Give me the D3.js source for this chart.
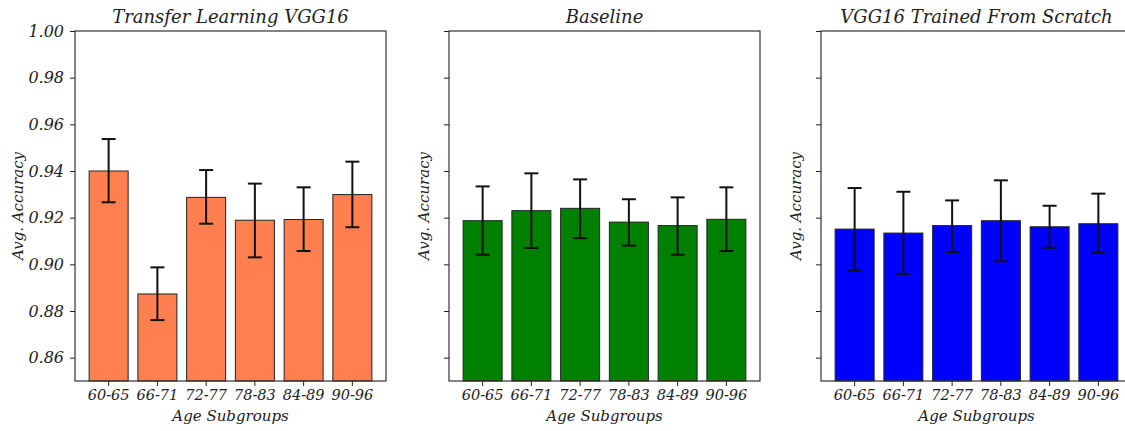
<!DOCTYPE html>
<meta charset="utf-8">
<style>
body { margin: 0; background: #fff; }
text { font-family: "DejaVu Serif", serif; font-style: italic; fill: #222; }
.axis .domain { display: none; }
.axis line { stroke: #222; }
</style>
<svg width="1125" height="431"></svg>
<script src="https://d3js.org/d3.v7.min.js"></script>
<script>

var groups = ["60-65", "66-71", "72-77", "78-83", "84-89", "90-96"];
var yTicks = [0.86, 0.88, 0.90, 0.92, 0.94, 0.96, 0.98, 1.00];

var titles = ["Transfer Learning VGG16", "Baseline", "VGG16 Trained From Scratch"];
var colors = ["#ff7f50", "#008000", "#0000ff"];

// bar heights (mean accuracy)
var transferMean = [0.940, 0.8873, 0.9287, 0.9189, 0.9192, 0.9299];
var baselineMean = [0.9187, 0.9230, 0.9240, 0.9181, 0.9166, 0.9193];
var scratchMean  = [0.9151, 0.9134, 0.9166, 0.9187, 0.9161, 0.9174];

// error bar ends
var transferLow  = [0.9266, 0.8761, 0.9174, 0.9030, 0.9057, 0.9159];
var transferHigh = [0.9537, 0.8987, 0.9404, 0.9346, 0.9330, 0.9440];
var baselineLow  = [0.9041, 0.9070, 0.9112, 0.9080, 0.9041, 0.9057];
var baselineHigh = [0.9334, 0.9390, 0.9364, 0.9279, 0.9287, 0.9330];
var scratchLow   = [0.8974, 0.8959, 0.9052, 0.9013, 0.9071, 0.9049];
var scratchHigh  = [0.9327, 0.9311, 0.9274, 0.9360, 0.9251, 0.9303];

var panels = [
  {mean: transferMean, low: transferLow, high: transferHigh},
  {mean: baselineMean, low: baselineLow, high: baselineHigh},
  {mean: scratchMean,  low: scratchLow,  high: scratchHigh}
];

var svg = d3.select("svg"),
    plotTop = 31, plotBottom = 381, panelWidth = 311,
    lefts = [75, 449, 821];

var y = d3.scaleLinear().domain([0.85, 1.00]).range([plotBottom, plotTop]);

panels.forEach(function(p, k) {
  var g = svg.append("g").attr("transform", "translate(" + lefts[k] + ",0)");

  var x = d3.scaleBand()
      .domain(groups)
      .range([0, panelWidth])
      .paddingInner(0.2)
      .paddingOuter(0.29);

  var rows = groups.map(function(name, i) {
    return {name: name, mean: p.mean[i], low: p.low[i], high: p.high[i]};
  });

  g.selectAll("rect.bar")
    .data(rows)
    .enter().append("rect")
      .attr("class", "bar")
      .attr("x", function(d) { return x(d.name); })
      .attr("y", function(d) { return y(d.mean); })
      .attr("width", x.bandwidth())
      .attr("height", function(d) { return plotBottom - y(d.mean); })
      .attr("fill", colors[k])
      .attr("stroke", "#222")
      .attr("stroke-width", 1);

  // error bars
  var err = g.selectAll("g.err")
    .data(rows)
    .enter().append("g")
      .attr("class", "err")
      .attr("transform", function(d) { return "translate(" + (x(d.name) + x.bandwidth() / 2) + ",0)"; })
      .attr("stroke", "#111")
      .attr("stroke-width", 2);

  err.append("line")
      .attr("y1", function(d) { return y(d.low); })
      .attr("y2", function(d) { return y(d.high); });
  err.append("line")
      .attr("x1", -7).attr("x2", 7)
      .attr("y1", function(d) { return y(d.low); })
      .attr("y2", function(d) { return y(d.low); });
  err.append("line")
      .attr("x1", -7).attr("x2", 7)
      .attr("y1", function(d) { return y(d.high); })
      .attr("y2", function(d) { return y(d.high); });

  // frame
  g.append("rect")
      .attr("x", 0).attr("y", plotTop)
      .attr("width", panelWidth).attr("height", plotBottom - plotTop)
      .attr("fill", "none")
      .attr("stroke", "#333")
      .attr("stroke-width", 1.2);

  var xAxis = g.append("g")
      .attr("class", "axis")
      .attr("transform", "translate(0," + plotBottom + ")")
      .call(d3.axisBottom(x).tickSize(5).tickPadding(4));
  xAxis.selectAll("text").attr("font-size", 14.5);

  var yAxis = g.append("g")
      .attr("class", "axis")
      .call(d3.axisLeft(y).tickValues(yTicks).tickSize(5).tickPadding(6)
        .tickFormat(k === 0 ? d3.format(".2f") : function() { return ""; }));
  yAxis.selectAll("text").attr("font-size", 16);

  g.append("text")
      .attr("x", panelWidth / 2)
      .attr("y", 23)
      .attr("text-anchor", "middle")
      .attr("font-size", 18)
      .text(titles[k]);

  g.append("text")
      .attr("x", panelWidth / 2)
      .attr("y", 421)
      .attr("text-anchor", "middle")
      .attr("font-size", 15)
      .text("Age Subgroups");

  g.append("text")
      .attr("transform", "translate(" + (k === 0 ? -52 : -20) + "," + ((plotTop + plotBottom) / 2) + ") rotate(-90)")
      .attr("text-anchor", "middle")
      .attr("font-size", 15)
      .text("Avg. Accuracy");
});

</script>
